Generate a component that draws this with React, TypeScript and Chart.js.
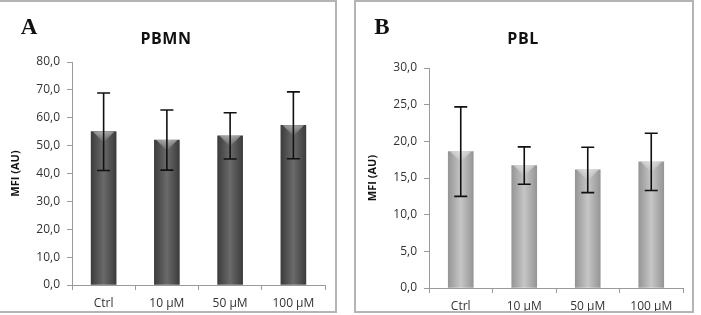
import React, { useEffect, useRef } from "react";
import { Chart, registerables } from "chart.js";

Chart.register(...registerables);

// Shared categories
const categories = ["Ctrl", "10 µM", "50 µM", "100 µM"];

// Panel A – PBMN
const pbmnMeans = [55.0, 52.0, 53.5, 57.3];
const pbmnErrors = [13.9, 10.8, 8.3, 12.0];
const pbmnTicks = [0, 10, 20, 30, 40, 50, 60, 70, 80];

// Panel B – PBL
const pblMeans = [18.6, 16.7, 16.1, 17.2];
const pblErrors = [6.1, 2.55, 3.1, 3.9];
const pblTicks = [0, 5, 10, 15, 20, 25, 30];

type PanelCfg = {
  title: string;
  letter: string;
  means: number[];
  errors: number[];
  ticks: number[];
  edge: string;
  mid: string;
  left: number;
  width: number;
  axisWidth: number;
  top: number;
  right: number;
  bottom: number;
  yTitlePad: number;
  titleX: number;
  letterX: number;
};

const PANEL_H = 309;
const BAR_W = 25;
const TICK_FONT = { family: "'Open Sans', sans-serif", size: 12 };

// Error bars (mean ± error) plus a soft bevel on top of each bar
const barExtrasPlugin = (errors: number[]) => ({
  id: "barExtras",
  afterDatasetsDraw(chart: any) {
    const { ctx } = chart;
    const xs = chart.scales.x;
    const ys = chart.scales.y;
    const data = chart.data.datasets[0].data as number[];
    ctx.save();
    data.forEach((v, i) => {
      const x = xs.getPixelForValue(i);
      const yb = ys.getPixelForValue(v);
      const g = ctx.createLinearGradient(0, yb, 0, yb + 11);
      g.addColorStop(0, "rgba(255,255,255,0.45)");
      g.addColorStop(1, "rgba(255,255,255,0)");
      ctx.fillStyle = g;
      ctx.beginPath();
      ctx.moveTo(x - BAR_W / 2 + 2, yb);
      ctx.lineTo(x + BAR_W / 2 - 2, yb);
      ctx.lineTo(x, yb + 11);
      ctx.closePath();
      ctx.fill();
    });
    ctx.strokeStyle = "#111";
    ctx.lineWidth = 1.6;
    data.forEach((v, i) => {
      const x = xs.getPixelForValue(i);
      const yTop = ys.getPixelForValue(v + errors[i]);
      const yBot = ys.getPixelForValue(v - errors[i]);
      ctx.beginPath();
      ctx.moveTo(x, yTop);
      ctx.lineTo(x, yBot);
      ctx.moveTo(x - 6.5, yTop);
      ctx.lineTo(x + 6.5, yTop);
      ctx.moveTo(x - 6.5, yBot);
      ctx.lineTo(x + 6.5, yBot);
      ctx.stroke();
    });
    ctx.restore();
  },
});

function Panel(p: PanelCfg) {
  const ref = useRef<HTMLCanvasElement | null>(null);
  useEffect(() => {
    if (!ref.current) return;
    const chart = new Chart(ref.current, {
      type: "bar",
      data: {
        labels: categories,
        datasets: [
          {
            data: p.means,
            barThickness: BAR_W,
            borderWidth: 0,
            backgroundColor: (c: any) => {
              const ch = c.chart;
              const xs = ch.scales?.x;
              if (!xs || c.dataIndex === undefined) return p.mid;
              const x = xs.getPixelForValue(c.dataIndex);
              if (!Number.isFinite(x)) return p.mid;
              const g = ch.ctx.createLinearGradient(x - BAR_W / 2, 0, x + BAR_W / 2, 0);
              g.addColorStop(0, p.edge);
              g.addColorStop(0.5, p.mid);
              g.addColorStop(1, p.edge);
              return g;
            },
          },
        ],
      },
      options: {
        animation: false,
        responsive: false,
        maintainAspectRatio: false,
        layout: { padding: { left: 0, top: p.top, right: p.right, bottom: 0 } },
        plugins: { legend: { display: false }, tooltip: { enabled: false } },
        scales: {
          x: {
            offset: true,
            grid: {
              display: true,
              offset: true,
              drawOnChartArea: false,
              drawTicks: true,
              tickLength: 5,
              color: "#9a9a9a",
            },
            border: { color: "#9a9a9a", width: 1 },
            ticks: { color: "#333", padding: 6, font: TICK_FONT },
            afterFit: (s: any) => {
              s.height = PANEL_H - p.bottom;
            },
          },
          y: {
            min: p.ticks[0],
            max: p.ticks[p.ticks.length - 1],
            afterBuildTicks: (s: any) => {
              s.ticks = p.ticks.map((v) => ({ value: v }));
            },
            grid: {
              display: true,
              drawOnChartArea: false,
              drawTicks: true,
              tickLength: 5,
              color: "#9a9a9a",
            },
            border: { color: "#9a9a9a", width: 1 },
            ticks: {
              color: "#333",
              padding: 7,
              font: TICK_FONT,
              callback: (v: any) => Number(v).toFixed(1).replace(".", ","),
            },
            title: {
              display: true,
              text: "MFI (AU)",
              color: "#111",
              padding: { top: p.yTitlePad, bottom: 0 },
              font: { family: "'Open Sans', sans-serif", size: 11, weight: "bold" },
            },
            afterFit: (s: any) => {
              s.width = p.axisWidth;
            },
          },
        },
      },
      plugins: [barExtrasPlugin(p.errors)],
    });
    return () => chart.destroy();
  }, []);

  return (
    <div
      style={{
        position: "absolute",
        left: p.left - 2,
        top: 0,
        width: p.width,
        height: PANEL_H,
        border: "2px solid #b4b4b4",
        boxSizing: "content-box",
        background: "#fff",
      }}
    >
      <canvas
        ref={ref}
        width={p.width}
        height={PANEL_H}
        style={{ position: "absolute", left: 0, top: 0, width: p.width, height: PANEL_H }}
      />
      <span
        style={{
          position: "absolute",
          left: p.letterX,
          top: 24,
          transform: "translate(-50%, -50%)",
          fontFamily: "'Liberation Serif', serif",
          fontWeight: "bold",
          fontSize: 23,
          lineHeight: 1,
          color: "#111",
        }}
      >
        {p.letter}
      </span>
      <span
        style={{
          position: "absolute",
          left: p.titleX,
          top: 36,
          transform: "translate(-50%, -50%)",
          fontFamily: "'Open Sans', sans-serif",
          fontWeight: "bold",
          fontSize: 16,
          lineHeight: 1,
          letterSpacing: 0.5,
          color: "#111",
          whiteSpace: "nowrap",
        }}
      >
        {p.title}
      </span>
    </div>
  );
}

export default function App() {
  return (
    <div style={{ position: "fixed", left: 0, top: 0, width: 701, height: 315, background: "#fff", overflow: "hidden" }}>
      <Panel
        title="PBMN"
        letter="A"
        means={pbmnMeans}
        errors={pbmnErrors}
        ticks={pbmnTicks}
        edge="#3c3c3c"
        mid="#6a6a6a"
        left={-3}
        width={338}
        axisWidth={75}
        top={60}
        right={338 - 328}
        bottom={283}
        yTitlePad={12}
        titleX={169}
        letterX={32}
      />
      <Panel
        title="PBL"
        letter="B"
        means={pblMeans}
        errors={pblErrors}
        ticks={pblTicks}
        edge="#959595"
        mid="#c6c6c6"
        left={356}
        width={336}
        axisWidth={73}
        top={66}
        right={336 - 327}
        bottom={286}
        yTitlePad={10}
        titleX={167}
        letterX={26}
      />
    </div>
  );
}
